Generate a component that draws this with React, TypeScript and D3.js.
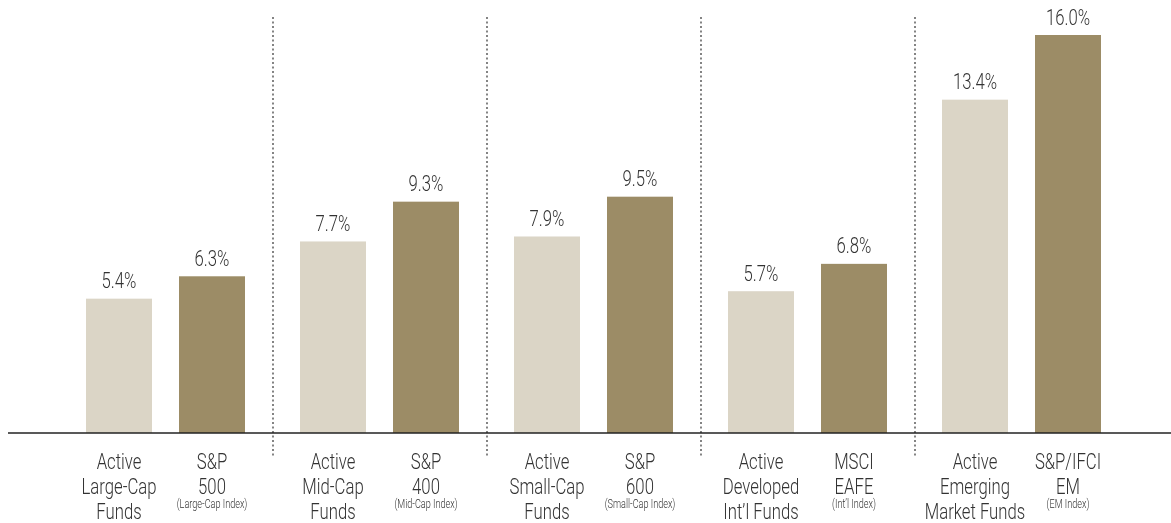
import React from "react";
import * as d3 from "d3";

const groups = ["Large", "Mid", "Small", "Intl", "EM"];
const activeValues = [5.4, 7.7, 7.9, 5.7, 13.4];
const indexValues = [6.3, 9.3, 9.5, 6.8, 16.0];
const activeLabels = [
  ["Active", "Large-Cap", "Funds"],
  ["Active", "Mid-Cap", "Funds"],
  ["Active", "Small-Cap", "Funds"],
  ["Active", "Developed", "Int\u2019l Funds"],
  ["Active", "Emerging", "Market Funds"],
];
const indexLabels = [
  ["S&P", "500"],
  ["S&P", "400"],
  ["S&P", "600"],
  ["MSCI", "EAFE"],
  ["S&P/IFCI", "EM"],
];
const indexSubLabels = ["(Large-Cap Index)", "(Mid-Cap Index)", "(Small-Cap Index)", "(Int\u2019l Index)", "(EM Index)"];

const W = 1171;
const H = 523;
const FONT = "Roboto, 'Liberation Sans', sans-serif";
const LIGHT = "#dbd5c6";
const DARK = "#9c8c66";
const TEXT = "#333333";
const SX = 0.76;

function CText({ x, y, size, children }: { x: number; y: number; size: number; children: React.ReactNode }) {
  return (
    <text
      transform={`translate(${x},${y}) scale(${SX},1)`}
      textAnchor="middle"
      fontSize={size}
      fontWeight={300}
      fill={TEXT}
    >
      {children}
    </text>
  );
}

export default function App() {
  const x = d3.scaleBand<string>().domain(groups).range([59, 1129]).padding(0);
  const inner = d3
    .scaleBand<string>()
    .domain(["active", "index"])
    .range([27, 186])
    .paddingInner(27 / 93)
    .paddingOuter(0);
  const y = d3.scaleLinear().domain([0, 16]).range([433, 35]);
  const fmt = d3.format(".1f");

  return (
    <div style={{ position: "fixed", left: 0, top: 0 }}>
      <svg width={W} height={H} style={{ display: "block" }} fontFamily={FONT}>
        {groups.map((g, i) => {
          const gx = x(g)!;
          const ax = gx + inner("active")!;
          const ix = gx + inner("index")!;
          const bw = inner.bandwidth();
          return (
            <g key={g}>
              <rect x={ax} y={y(activeValues[i])} width={bw} height={y(0) - y(activeValues[i])} fill={LIGHT} />
              <rect x={ix} y={y(indexValues[i])} width={bw} height={y(0) - y(indexValues[i])} fill={DARK} />
              <CText x={ax + bw / 2} y={y(activeValues[i]) - 10.5} size={22}>
                {fmt(activeValues[i])}%
              </CText>
              <CText x={ix + bw / 2} y={y(indexValues[i]) - 10.5} size={22}>
                {fmt(indexValues[i])}%
              </CText>
              {activeLabels[i].map((t, k) => (
                <CText key={k} x={ax + bw / 2} y={469 + k * 25} size={22}>
                  {t}
                </CText>
              ))}
              {indexLabels[i].map((t, k) => (
                <CText key={k} x={ix + bw / 2} y={469 + k * 25} size={22}>
                  {t}
                </CText>
              ))}
              <CText x={ix + bw / 2} y={507.5} size={12}>
                {indexSubLabels[i]}
              </CText>
              {i > 0 && (
                <line x1={gx} x2={gx} y1={17} y2={456} stroke="#333" strokeWidth={1.2} strokeDasharray="2,2.5" />
              )}
            </g>
          );
        })}
        <line x1={8} x2={1171} y1={y(0)} y2={y(0)} stroke="#222" strokeWidth={1.5} />
      </svg>
    </div>
  );
}
